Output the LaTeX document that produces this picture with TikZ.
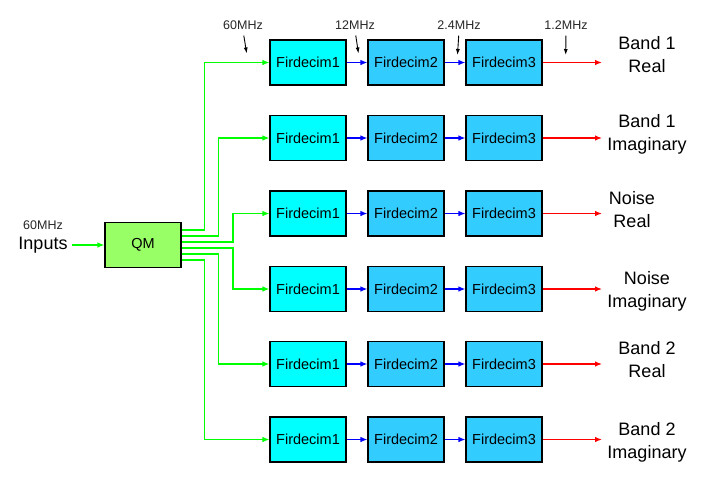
\documentclass[tikz,border=0pt]{standalone}
\usepackage{fontspec}
\setmainfont{Liberation Sans}
\usetikzlibrary{arrows.meta,positioning}
\definecolor{qmfill}{HTML}{99FF66}
\definecolor{decone}{HTML}{00FFFF}
\definecolor{dectwo}{HTML}{33CCFF}
\definecolor{wire}{HTML}{00FF00}
\tikzset{
  decbox/.style={draw=black,line width=1.1pt,minimum width=76pt,minimum height=45pt,inner sep=0pt,font=\fontsize{14.5}{16}\selectfont},
  greenwire/.style={draw=wire,line width=1.2pt,-{Latex[length=7pt,width=5.5pt]}},
  bluewire/.style={draw=blue,line width=1.2pt,-{Latex[length=7pt,width=5.5pt]}},
  redwire/.style={draw=red,line width=1.2pt,-{Latex[length=7pt,width=5.5pt]}},
  ratelabel/.style={inner sep=1pt,font=\fontsize{12.5}{14}\selectfont,text=black!85},
  ratearrow/.style={draw=black,line width=0.9pt,-{Latex[length=6pt,width=4pt]},shorten <=5pt},
  outlabel/.style={align=center,inner sep=0pt,font=\fontsize{18}{23}\selectfont}
}
\begin{document}
\begin{tikzpicture}[x=1pt,y=-1pt]
\useasboundingbox (0,0) rectangle (725,477);
% quadrature mixer and its input
\node[decbox,fill=qmfill] (qm) at (143,245) {QM};
\node[inner sep=1pt,font=\fontsize{18}{20}\selectfont] (inputs) at (43,245) {Inputs};
\node[ratelabel] (inrate) at (43,225) {60MHz};
\draw[greenwire,shorten <=3pt] (inputs.east) -- (qm.west);
% decimator chains, one per output
\foreach \r/\y/\yo/\xv in {1/62.5/230/204.3,2/138/236/218.5,3/213.5/242/233,4/289/248/233,5/364/254/218.5,6/439.5/260/204.3}{
  \node[decbox,fill=decone] (fa\r) at (308,\y) {Firdecim1};
  \node[decbox,fill=dectwo] (fb\r) at (406,\y) {Firdecim2};
  \node[decbox,fill=dectwo] (fc\r) at (504,\y) {Firdecim3};
  \coordinate (out\r) at (602,\y);
  \coordinate (tap\r) at (0,\yo);
  \draw[greenwire] (qm.east |- tap\r) -| (\xv,\y) -- (fa\r.west);
  \draw[bluewire] (fa\r) -- (fb\r);
  \draw[bluewire] (fb\r) -- (fc\r);
  \draw[redwire] (fc\r) -- (out\r);
}
% output names
\node[outlabel] (lb1) at (647,55) {Band 1\\Real};
\node[outlabel] (lb2) at (647,134) {Band 1\\Imaginary};
\node[outlabel] (lb3) at (632,210) {Noise\\Real};
\node[outlabel] (lb4) at (647,291) {Noise\\Imaginary};
\node[outlabel] (lb5) at (647,360) {Band 2\\Real};
\node[outlabel] (lb6) at (647,442) {Band 2\\Imaginary};
% sample rates along the first chain
\node[ratelabel] (rate1) at (243,25) {60MHz};
\node[ratelabel] (rate2) at (355,25) {12MHz};
\node[ratelabel] (rate3) at (459,25) {2.4MHz};
\node[ratelabel] (rate4) at (566,25) {1.2MHz};
\coordinate (pt1) at (246.7,53.5);
\coordinate (pt2) at (358.5,53.5);
\coordinate (pt3) at (457.5,55);
\coordinate (pt4) at (565.7,55);
\draw[ratearrow] (rate1.south) -- (pt1);
\draw[ratearrow] (rate2.south) -- (pt2);
\draw[ratearrow] (rate3.south) -- (pt3);
\draw[ratearrow] (rate4.south) -- (pt4);
\end{tikzpicture}
\end{document}
